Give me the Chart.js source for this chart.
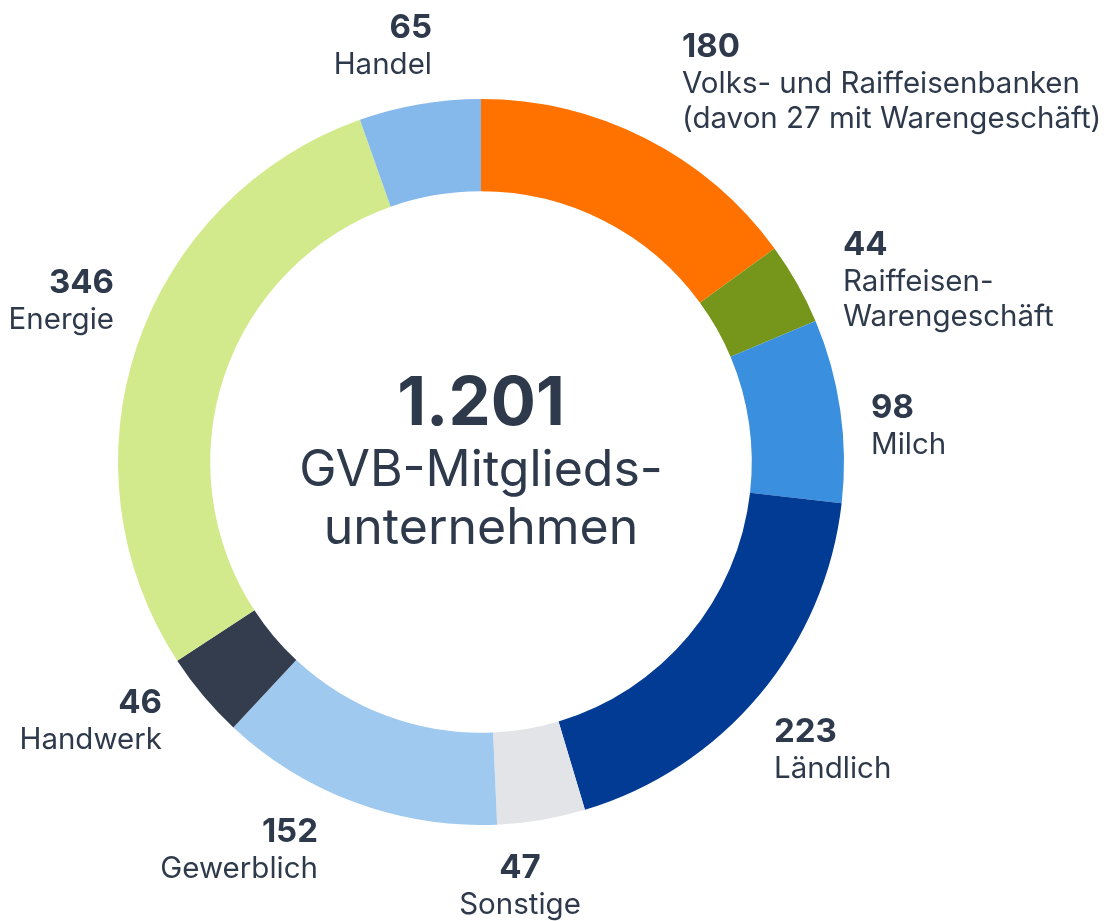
<!DOCTYPE html>
<html>
<head>
<meta charset="utf-8">
<script src="https://cdn.jsdelivr.net/npm/chart.js@4.4.0/dist/chart.umd.min.js"></script>
<style>
  html, body { margin: 0; padding: 0; background: #ffffff; }
  #wrap { width: 1106px; height: 921px; position: relative; }
</style>
</head>
<body>
<div id="wrap"><canvas id="c" width="1106" height="921"></canvas></div>
<script>
// ---- data ----
const categories = ["Volks- und Raiffeisenbanken", "Raiffeisen-Warengeschäft", "Milch", "Ländlich", "Sonstige", "Gewerblich", "Handwerk", "Energie", "Handel"];
const values = [180, 44, 98, 223, 47, 152, 46, 346, 65];
const labelLines = [
  ["Volks- und Raiffeisenbanken", "(davon 27 mit Warengeschäft)"],
  ["Raiffeisen-", "Warengeschäft"],
  ["Milch"],
  ["Ländlich"],
  ["Sonstige"],
  ["Gewerblich"],
  ["Handwerk"],
  ["Energie"],
  ["Handel"]
];
const colors = ["#FF7200", "#76961B", "#3A8FDE", "#023B93", "#E3E4E8", "#9FC9EE", "#333D4E", "#D2EA8C", "#86B9EB"];
const totalLabel = "1.201";
const centerLines = ["GVB-Mitglieds-", "unternehmen"];

// label layout: offsets from chart centre (px), alignment
const labelLayout = [
  { dx: 201, dy: -405, align: "left" },
  { dx: 362, dy: -207, align: "left" },
  { dx: 390, dy: -44, align: "left" },
  { dx: 293, dy: 280, align: "left" },
  { dx: 39, dy: 416, align: "center" },
  { dx: -163, dy: 380, align: "right" },
  { dx: -319, dy: 251, align: "right" },
  { dx: -367, dy: -169, align: "right" },
  { dx: -49, dy: -424, align: "right" }
];

const textColor = "#2E3A4B";
const FONT = "Inter, 'Noto Sans', sans-serif";

const labelPlugin = {
  id: "labelPlugin",
  afterDraw(chart) {
    const ctx = chart.ctx;
    const arc = chart.getDatasetMeta(0).data[0];
    const cx = arc.x, cy = arc.y;
    ctx.save();
    ctx.fillStyle = textColor;
    ctx.textBaseline = "alphabetic";
    values.forEach((v, i) => {
      const L = labelLayout[i];
      const x = cx + L.dx, y = cy + L.dy;
      ctx.textAlign = L.align;
      ctx.font = "700 33px " + FONT;
      ctx.fillText(String(v), x, y);
      ctx.font = "400 29.5px " + FONT;
      labelLines[i].forEach((line, j) => {
        ctx.fillText(line, x, y + 36 + j * 35);
      });
    });
    // centre text
    ctx.textAlign = "center";
    ctx.font = "700 67px " + FONT;
    ctx.fillText(totalLabel, cx, cy - 37);
    ctx.font = "400 50px " + FONT;
    ctx.fillText(centerLines[0], cx, cy + 24);
    ctx.fillText(centerLines[1], cx, cy + 82);
    ctx.restore();
  }
};

new Chart(document.getElementById("c"), {
  type: "doughnut",
  data: {
    labels: categories,
    datasets: [{
      data: values,
      backgroundColor: colors,
      borderWidth: 0,
      hoverOffset: 0
    }]
  },
  options: {
    responsive: false,
    animation: false,
    cutout: "74.6%",
    layout: { padding: { left: 118, right: 262, top: 99, bottom: 96 } },
    plugins: {
      legend: { display: false },
      tooltip: { enabled: false }
    }
  },
  plugins: [labelPlugin]
});
</script>
</body>
</html>
